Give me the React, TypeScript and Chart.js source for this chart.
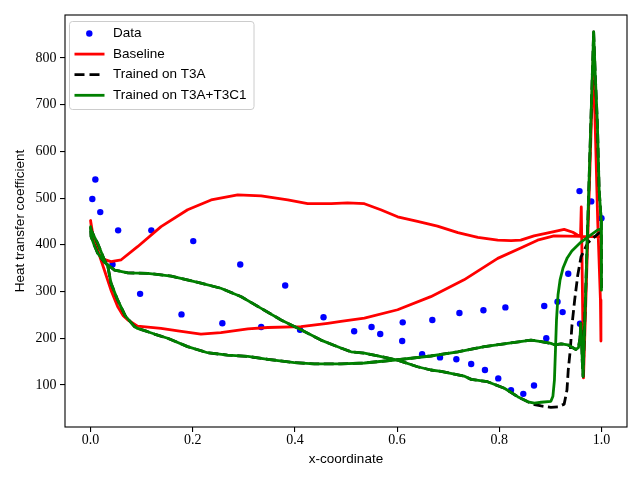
import React, { useEffect, useRef } from 'react';
import { Chart, registerables } from 'chart.js';

Chart.register(...registerables);

// axis ticks
const X_TICKS = [0, 0.2, 0.4, 0.6, 0.8, 1.0];
const Y_TICKS = [100, 200, 300, 400, 500, 600, 700, 800];

// measured data (blue dots)
const DATA_X = [0.0035, 0.0094, 0.019, 0.043, 0.054, 0.097, 0.119, 0.178, 0.201, 0.258, 0.293, 0.334, 0.381, 0.41, 0.456,
  0.516, 0.55, 0.567, 0.611, 0.61, 0.649, 0.669, 0.684, 0.716, 0.722, 0.745, 0.769, 0.772, 0.798, 0.812, 0.823,
  0.847, 0.868, 0.888, 0.892, 0.914, 0.924, 0.935, 0.957, 0.958, 0.98, 1.0];
const DATA_Y = [498, 540, 470, 358, 431, 295, 431, 251, 408, 232, 358, 224, 313, 218, 245,
  215, 224, 209, 234, 194, 166, 239, 159, 155, 254, 145, 260, 132, 114, 266, 89,
  81, 99, 269, 200, 278, 256, 338, 515, 231, 493, 457];

// Baseline, lower side (leading edge -> trailing edge)
const BASE_LOW_X = [0, 0.005, 0.015, 0.027, 0.04, 0.053, 0.064, 0.073, 0.092, 0.138, 0.171, 0.216, 0.255, 0.308, 0.347,
  0.412, 0.464, 0.49, 0.536, 0.601, 0.666, 0.731, 0.797, 0.842, 0.875, 0.907, 0.96, 1.0];
const BASE_LOW_Y = [452, 419, 385, 346, 303, 268, 248, 239, 226, 221, 216, 209, 212, 220, 223,
  225, 232, 236, 243, 261, 289, 325, 371, 393, 410, 419, 418, 417];

// Baseline, upper side (leading edge -> trailing edge)
const BASE_UP_X = [0, 0.005, 0.0205, 0.04, 0.06, 0.092, 0.138, 0.19, 0.236, 0.288, 0.334, 0.386, 0.425, 0.471, 0.503,
  0.536, 0.568, 0.601, 0.64, 0.679, 0.719, 0.758, 0.797, 0.823, 0.842, 0.868, 0.907, 0.927, 0.944, 0.953,
  0.959, 0.9605, 0.962, 0.9648, 0.984, 0.988, 0.9926, 0.998, 0.999];
const BASE_UP_Y = [452, 410, 371, 364, 368, 396, 439, 475, 496, 507, 505, 496, 488, 488, 490,
  488, 475, 460, 450, 440, 426, 416, 410, 409, 410, 419, 428, 433, 427, 421,
  419, 481, 368, 115, 796, 646, 453, 282, 194];

// T3A+T3C1, upper side (leading edge -> trailing edge)
const T3C1_UP_X = [0, 0.001, 0.007, 0.014, 0.027, 0.047, 0.073, 0.112, 0.158, 0.216, 0.255, 0.295, 0.334, 0.373, 0.412,
  0.451, 0.49, 0.51, 0.536, 0.555, 0.601, 0.64, 0.666, 0.686, 0.731, 0.745, 0.777, 0.81, 0.836, 0.843,
  0.856, 0.869, 0.882, 0.901, 0.905, 0.908, 0.91, 0.912, 0.915, 0.919, 0.925, 0.933, 0.942, 0.96, 0.98,
  0.993, 1.0];
const T3C1_UP_Y = [439, 418, 400, 382, 363, 346, 340, 339, 333, 318, 307, 289, 264, 239, 218,
  196, 179, 171, 168, 164, 153, 139, 132, 129, 119, 112, 107, 93, 75, 71,
  64, 61, 63, 65, 76, 111, 175, 239, 293, 325, 351, 372, 387, 406, 422,
  432, 434];

// T3A+T3C1, lower side (leading edge -> trailing edge)
const T3C1_LOW_X = [0, 0.001, 0.007, 0.014, 0.027, 0.034, 0.04, 0.053, 0.068, 0.086, 0.092, 0.112, 0.125, 0.151, 0.19,
  0.229, 0.268, 0.308, 0.347, 0.399, 0.438, 0.49, 0.536, 0.601, 0.666, 0.719, 0.771, 0.816, 0.862, 0.882,
  0.901, 0.908, 0.921, 0.934, 0.95, 0.955, 0.958, 0.9595, 0.961, 0.9625, 0.964, 0.9847, 0.988, 0.992, 0.9955,
  0.9995, 1.0, 1.0];
const T3C1_LOW_Y = [439, 432, 418, 403, 368, 353, 318, 282, 248, 225, 221, 214, 209, 200, 182,
  169, 164, 161, 155, 148, 145, 145, 147, 154, 162, 171, 182, 189, 196, 193,
  189, 186, 188, 186, 176, 180, 200, 232, 200, 150, 118, 856, 760, 660, 517,
  453, 375, 303];

// T3A differs from T3A+T3C1 only near the transition on the upper side
const T3A_TAIL_X = [0.856, 0.869, 0.882, 0.901, 0.915, 0.927, 0.9325, 0.935, 0.939, 0.9423, 0.9476, 0.9536, 0.96, 0.973, 0.9926, 1.0];
const T3A_TAIL_Y = [64, 58, 55, 52, 53, 59, 89, 132, 175, 228, 282, 335, 374, 404, 423, 428];

const zip = (xs: number[], ys: number[]) => xs.map((x, i) => ({ x, y: ys[i] }));

const SERIF = "'Liberation Serif', 'DejaVu Serif', serif";
const SANS = "'Liberation Sans', 'DejaVu Sans', sans-serif";

const framePlugin = {
  id: 'frame',
  afterDatasetsDraw(chart: any) {
    const { ctx, chartArea: a } = chart;
    ctx.save();
    ctx.strokeStyle = '#000';
    ctx.lineWidth = 1.1;
    ctx.strokeRect(a.left, a.top, a.right - a.left, a.bottom - a.top);
    ctx.restore();
  },
};

const legendPlugin = {
  id: 'boxLegend',
  afterDraw(chart: any) {
    const ctx = chart.ctx;
    const x = 69.5, y = 21.5, w = 184.5, h = 88, r = 3;
    ctx.save();
    ctx.beginPath();
    ctx.moveTo(x + r, y);
    ctx.arcTo(x + w, y, x + w, y + h, r);
    ctx.arcTo(x + w, y + h, x, y + h, r);
    ctx.arcTo(x, y + h, x, y, r);
    ctx.arcTo(x, y, x + w, y, r);
    ctx.closePath();
    ctx.fillStyle = 'rgba(255,255,255,0.8)';
    ctx.fill();
    ctx.strokeStyle = '#cccccc';
    ctx.lineWidth = 1;
    ctx.stroke();

    const rows = [
      { label: 'Data', kind: 'dot', color: '#0000ff' },
      { label: 'Baseline', kind: 'line', color: '#ff0000' },
      { label: 'Trained on T3A', kind: 'dash', color: '#000000' },
      { label: 'Trained on T3A+T3C1', kind: 'line', color: '#008000' },
    ];
    ctx.font = `13.5px ${SANS}`;
    ctx.textBaseline = 'middle';
    ctx.textAlign = 'left';
    rows.forEach((row, i) => {
      const cy = 33.5 + i * 20.6;
      if (row.kind === 'dot') {
        ctx.beginPath();
        ctx.arc(89.3, cy, 3.2, 0, Math.PI * 2);
        ctx.fillStyle = row.color;
        ctx.fill();
      } else {
        ctx.beginPath();
        ctx.setLineDash(row.kind === 'dash' ? [10, 5] : []);
        ctx.lineCap = 'butt';
        ctx.moveTo(74.5, cy);
        ctx.lineTo(104.5, cy);
        ctx.strokeStyle = row.color;
        ctx.lineWidth = 2.8;
        ctx.stroke();
        ctx.setLineDash([]);
      }
      ctx.fillStyle = '#000';
      ctx.fillText(row.label, 113, cy);
    });
    ctx.restore();
  },
};

const App: React.FC = () => {
  const canvasRef = useRef<HTMLCanvasElement>(null);

  useEffect(() => {
    if (!canvasRef.current) return;

    const baseline = [...zip(BASE_LOW_X, BASE_LOW_Y).reverse(), ...zip(BASE_UP_X, BASE_UP_Y)];
    const t3c1 = [...zip(T3C1_UP_X, T3C1_UP_Y).reverse(), ...zip(T3C1_LOW_X, T3C1_LOW_Y)];
    const t3aUpper = [
      ...zip(T3C1_UP_X, T3C1_UP_Y).filter((p) => p.x < T3A_TAIL_X[0]),
      ...zip(T3A_TAIL_X, T3A_TAIL_Y),
    ];
    const t3a = [...t3aUpper.reverse(), ...zip(T3C1_LOW_X, T3C1_LOW_Y)];

    const lineStyle = {
      showLine: true,
      pointRadius: 0,
      pointHoverRadius: 0,
      borderWidth: 2.8,
      tension: 0,
      fill: false,
      borderJoinStyle: 'round' as const,
    };

    const chart = new Chart(canvasRef.current, {
      type: 'scatter',
      data: {
        datasets: [
          {
            label: 'Data',
            data: zip(DATA_X, DATA_Y),
            showLine: false,
            pointRadius: 3.2,
            pointBackgroundColor: '#0000ff',
            pointBorderWidth: 0,
            order: 4,
          },
          { label: 'Baseline', data: baseline, borderColor: '#ff0000', ...lineStyle, order: 3 },
          { label: 'Trained on T3A', data: t3a, borderColor: '#000000', borderDash: [10, 4.5], ...lineStyle, order: 2 },
          { label: 'Trained on T3A+T3C1', data: t3c1, borderColor: '#008000', ...lineStyle, order: 1 },
        ],
      },
      options: {
        responsive: false,
        animation: false,
        layout: { padding: { left: 0, right: 13, top: 15, bottom: 0 } },
        plugins: { legend: { display: false }, tooltip: { enabled: false } },
        scales: {
          x: {
            type: 'linear',
            min: -0.05,
            max: 1.05,
            afterBuildTicks: (s: any) => { s.ticks = X_TICKS.map((v) => ({ value: v })); },
            afterFit: (s: any) => { s.height = 53; },
            border: { display: false },
            grid: { drawOnChartArea: false, drawTicks: true, tickLength: 5, color: '#000', lineWidth: 1.1 },
            ticks: {
              padding: 0,
              color: '#000',
              font: { family: SERIF, size: 14 },
              callback: (v: any) => Number(v).toFixed(1),
              maxRotation: 0,
            },
            title: {
              display: true,
              text: 'x-coordinate',
              color: '#000',
              font: { family: SANS, size: 13.5 },
              padding: { top: 0, bottom: 13 },
            },
          },
          y: {
            type: 'linear',
            min: 10,
            max: 892,
            afterBuildTicks: (s: any) => { s.ticks = Y_TICKS.map((v) => ({ value: v })); },
            afterFit: (s: any) => { s.width = 65; },
            border: { display: false },
            grid: { drawOnChartArea: false, drawTicks: true, tickLength: 5, color: '#000', lineWidth: 1.1 },
            ticks: {
              padding: 3.5,
              color: '#000',
              font: { family: SERIF, size: 14 },
              callback: (v: any) => String(v),
            },
            title: {
              display: true,
              text: 'Heat transfer coefficient',
              color: '#000',
              font: { family: SANS, size: 13.5 },
              padding: { top: 12, bottom: 0 },
            },
          },
        },
      },
      plugins: [framePlugin, legendPlugin],
    });

    return () => {
      chart.destroy();
    };
  }, []);

  return (
    <div style={{ position: 'fixed', left: 0, top: 0, width: 640, height: 480, background: '#fff' }}>
      <canvas ref={canvasRef} width={640} height={480} />
    </div>
  );
};

export default App;
